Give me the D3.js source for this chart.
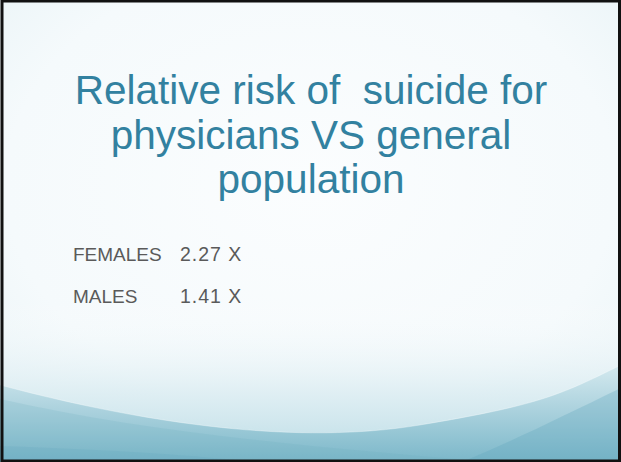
<!DOCTYPE html>
<html>
<head>
<meta charset="utf-8">
<script src="https://cdn.jsdelivr.net/npm/d3@7"></script>
<style>
  html, body { margin: 0; padding: 0; background: #fff; }
  svg { display: block; }
</style>
</head>
<body>
<script>
// ---- data ----
const titleLines = ["Relative risk of  suicide for", "physicians VS general", "population"];
const categories = ["FEMALES", "MALES"];
const values = [2.27, 1.41];
const valueSuffix = " X";

const W = 621, H = 462;
const svg = d3.select("body").append("svg").attr("width", W).attr("height", H);
const defs = svg.append("defs");

// background radial
const rg = defs.append("radialGradient").attr("id", "bg")
  .attr("cx", "50%").attr("cy", "40%").attr("r", "70%");
rg.append("stop").attr("offset", "0%").attr("stop-color", "#fbfdfe");
rg.append("stop").attr("offset", "70%").attr("stop-color", "#f5fafc");
rg.append("stop").attr("offset", "100%").attr("stop-color", "#eaf4f7");
svg.append("rect").attr("width", W).attr("height", H).attr("fill", "url(#bg)");

// bottom haze
const lg = defs.append("linearGradient").attr("id", "haze").attr("x1", 0).attr("y1", 0).attr("x2", 0).attr("y2", 1);
lg.append("stop").attr("offset", "0%").attr("stop-color", "#ffffff").attr("stop-opacity", 0);
lg.append("stop").attr("offset", "55%").attr("stop-color", "#dcedf2").attr("stop-opacity", 0.8);
lg.append("stop").attr("offset", "100%").attr("stop-color", "#b9dbe5").attr("stop-opacity", 1);
svg.append("rect").attr("x", 0).attr("y", 300).attr("width", W).attr("height", 162).attr("fill", "url(#haze)");

// swoosh bands
const tg = defs.append("linearGradient").attr("id", "teal").attr("x1", 0).attr("y1", 0).attr("x2", 0).attr("y2", 1);
tg.append("stop").attr("offset", "0%").attr("stop-color", "#d2e8ee");
tg.append("stop").attr("offset", "45%").attr("stop-color", "#a8d0dc");
tg.append("stop").attr("offset", "100%").attr("stop-color", "#74b3c6");
svg.append("path")
  .attr("d", "M0,385 C150,425 300,445 420,425 S560,395 621,365 L621,462 L0,462 Z")
  .attr("fill", "url(#teal)").attr("opacity", 0.9);
svg.append("path")
  .attr("d", "M0,399 C180,440 380,452 660,476 L660,480 L0,480 Z")
  .attr("fill", "#6aabbf").attr("opacity", 0.18);
svg.append("path")
  .attr("d", "M621,388 C565,415 515,440 462,462 L621,462 Z")
  .attr("fill", "#5fa6bc").attr("opacity", 0.3);
svg.append("path")
  .attr("d", "M0,446 C120,450 220,456 320,470 L0,470 Z")
  .attr("fill", "#5fa6bc").attr("opacity", 0.2);
svg.append("path")
  .attr("d", "M0,385 C150,425 300,445 420,425 S560,395 621,365")
  .attr("fill", "none").attr("stroke", "#ffffff").attr("stroke-opacity", 0.3).attr("stroke-width", 1);

// title
const titleY = d3.scalePoint().domain(d3.range(titleLines.length)).range([104, 193]);
svg.append("g").selectAll("text").data(titleLines).join("text")
  .attr("x", 311).attr("y", (d, i) => titleY(i))
  .attr("text-anchor", "middle")
  .attr("font-family", "'Liberation Sans', Arial, sans-serif")
  .attr("font-size", 40.5)
  .attr("fill", "#3281a0")
  .style("white-space", "pre")
  .attr("xml:space", "preserve")
  .text(d => d);

// body rows
const rowY = d3.scalePoint().domain(categories).range([261, 303]);
const fmt = d3.format(".2f");
const rows = svg.append("g").selectAll("g").data(categories).join("g")
  .attr("transform", d => `translate(0,${rowY(d)})`);
rows.append("text").attr("x", 73)
  .attr("font-family", "'Liberation Sans', Arial, sans-serif")
  .attr("font-size", 19).attr("fill", "#5a5a5a")
  .text(d => d);
rows.append("text").attr("x", 180)
  .attr("font-family", "'Liberation Sans', Arial, sans-serif")
  .attr("font-size", 19.5).attr("letter-spacing", 1)
  .style("white-space", "pre")
  .attr("fill", "#5a5a5a")
  .text((d, i) => fmt(values[i]) + valueSuffix);

// frame
svg.append("rect").attr("x", 2).attr("y", 1).attr("width", W - 3.5).attr("height", H - 2)
  .attr("fill", "none").attr("stroke", "#111").attr("stroke-width", 3);
</script>
</body>
</html>
